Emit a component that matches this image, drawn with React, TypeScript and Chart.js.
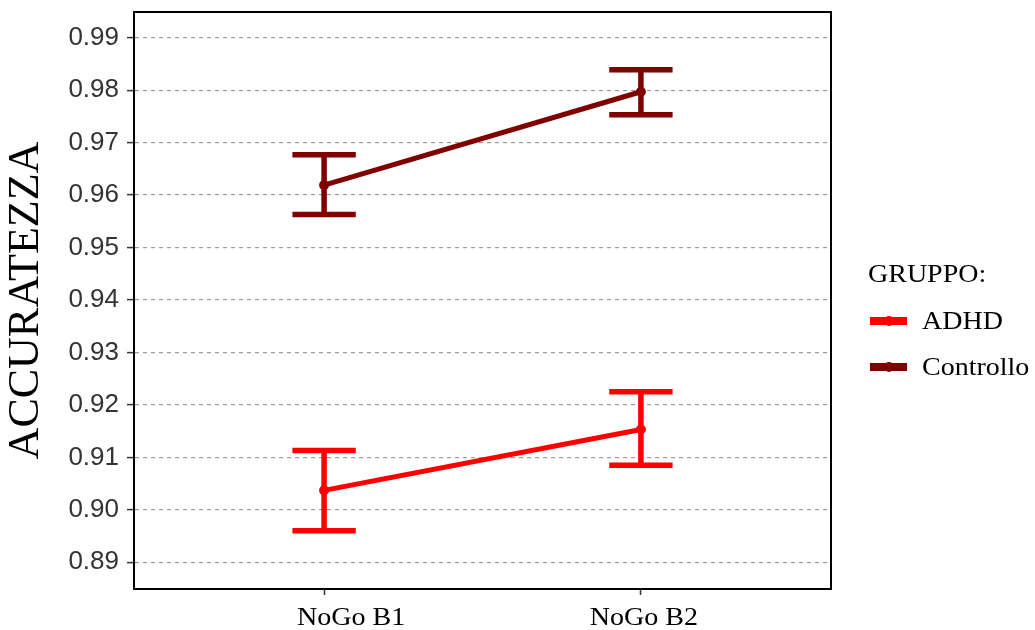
import React, { useEffect, useRef } from "react";
import { Chart, registerables } from "chart.js";

Chart.register(...registerables);

const categories = ["NoGo B1", "NoGo B2"];
const categoryPositions = [1, 2];
const groups = ["ADHD", "Controllo"];
const groupColors = ["#FF0000", "#800000"];
const adhdMean = [0.9037, 0.9153];
const adhdLower = [0.896, 0.9085];
const adhdUpper = [0.9113, 0.9225];
const controlloMean = [0.9619, 0.9797];
const controlloLower = [0.9563, 0.9753];
const controlloUpper = [0.9677, 0.9839];
const yTicks = [0.89, 0.9, 0.91, 0.92, 0.93, 0.94, 0.95, 0.96, 0.97, 0.98, 0.99];
const yTitle = "ACCURATEZZA";
const legendTitle = "GRUPPO:";

const means = [adhdMean, controlloMean];
const lowers = [adhdLower, controlloLower];
const uppers = [adhdUpper, controlloUpper];

const errorBarPlugin = {
  id: "errorBars",
  beforeDatasetsDraw(chart: any) {
    const { ctx, scales } = chart;
    const xs = scales.x;
    const ys = scales.y;
    ctx.save();
    ctx.lineCap = "butt";
    groups.forEach((_, g) => {
      ctx.strokeStyle = groupColors[g];
      ctx.lineWidth = 5.5;
      categoryPositions.forEach((xv, i) => {
        const x = xs.getPixelForValue(xv);
        const xl = xs.getPixelForValue(xv - 0.1);
        const xr = xs.getPixelForValue(xv + 0.1);
        const yl = ys.getPixelForValue(lowers[g][i]);
        const yu = ys.getPixelForValue(uppers[g][i]);
        ctx.beginPath();
        ctx.moveTo(x, yl);
        ctx.lineTo(x, yu);
        ctx.moveTo(xl, yl);
        ctx.lineTo(xr, yl);
        ctx.moveTo(xl, yu);
        ctx.lineTo(xr, yu);
        ctx.stroke();
      });
    });
    ctx.restore();
  },
};

function stretchedText(ctx: any, text: string, x: number, y: number, sx: number) {
  ctx.save();
  ctx.translate(x, y);
  ctx.scale(sx, 1);
  ctx.fillText(text, 0, 0);
  ctx.restore();
}

const framePlugin = {
  id: "frame",
  afterDraw(chart: any) {
    const { ctx, chartArea, scales } = chart;
    ctx.save();
    ctx.strokeStyle = "#000";
    ctx.lineWidth = 2;
    ctx.strokeRect(chartArea.left, chartArea.top, chartArea.right - chartArea.left, chartArea.bottom - chartArea.top);
    // x category labels
    ctx.fillStyle = "#000";
    ctx.font = '26px "Liberation Serif"';
    ctx.textBaseline = "alphabetic";
    ctx.textAlign = "left";
    const labelShift = [27, 3];
    categories.forEach((c, i) => {
      const x = scales.x.getPixelForValue(categoryPositions[i]);
      const w = ctx.measureText(c).width * 1.08;
      stretchedText(ctx, c, x - w / 2 + labelShift[i], 625, 1.08);
    });
    // legend
    ctx.font = '25px "Liberation Serif"';
    stretchedText(ctx, legendTitle, 868, 282, 1.12);
    const rowY = [321, 367];
    groups.forEach((name, g) => {
      const y = rowY[g];
      ctx.strokeStyle = groupColors[g];
      ctx.fillStyle = groupColors[g];
      ctx.lineWidth = 8;
      ctx.beginPath();
      ctx.moveTo(870, y);
      ctx.lineTo(907, y);
      ctx.stroke();
      ctx.beginPath();
      ctx.arc(889, y, 5, 0, Math.PI * 2);
      ctx.fill();
      ctx.fillStyle = "#000";
      ctx.font = '25px "Liberation Serif"';
      stretchedText(ctx, name, 922, y + 8, 1.12);
    });
    ctx.restore();
  },
};

export default function App() {
  const ref = useRef<HTMLCanvasElement>(null);
  useEffect(() => {
    if (!ref.current) return;
    const chart = new Chart(ref.current, {
      type: "line",
      data: {
        datasets: groups.map((name, g) => ({
          label: name,
          data: categoryPositions.map((x, i) => ({ x, y: means[g][i] })),
          borderColor: groupColors[g],
          backgroundColor: groupColors[g],
          borderWidth: 5,
          pointRadius: 2.5,
          pointHoverRadius: 2.5,
          tension: 0,
        })),
      },
      options: {
        animation: false,
        responsive: false,
        maintainAspectRatio: false,
        events: [],
        layout: { padding: { top: 12, right: 204, left: 0, bottom: 0 } },
        plugins: { legend: { display: false }, tooltip: { enabled: false } },
        scales: {
          x: {
            type: "linear",
            min: 0.4,
            max: 2.6,
            afterBuildTicks: (s: any) => {
              s.ticks = categoryPositions.map((v) => ({ value: v }));
            },
            afterFit: (s: any) => {
              s.height = 41;
              s.paddingLeft = 0;
              s.paddingRight = 0;
            },
            ticks: {
              autoSkip: false,
              maxRotation: 0,
              display: false,
            },
            grid: { display: true, drawOnChartArea: false, drawTicks: true, tickLength: 6, tickColor: "#333", tickWidth: 1.5 },
            border: { display: true, color: "#000", width: 2 },
          },
          y: {
            min: 0.8849,
            max: 0.9949,
            afterBuildTicks: (s: any) => {
              s.ticks = yTicks.map((v) => ({ value: v }));
            },
            afterFit: (s: any) => {
              s.width = 134;
              s.paddingTop = 0;
              s.paddingBottom = 0;
            },
            ticks: {
              padding: 8,
              color: "#333",
              font: { family: "Liberation Sans", size: 26 },
              callback: (v: any) => Number(v).toFixed(2),
            },
            grid: { display: true, color: "#9a9a9a", lineWidth: 1.2, drawTicks: true, tickLength: 7, tickColor: "#333", tickWidth: 1.5 },
            border: { display: true, color: "#000", width: 2, dash: [4, 4] },
            title: {
              display: true,
              text: yTitle,
              color: "#000",
              font: { family: "Liberation Serif", size: 44, weight: "normal" },
              padding: { top: 0, bottom: 0 },
            },
          },
        },
      },
      plugins: [errorBarPlugin, framePlugin],
    });
    return () => chart.destroy();
  }, []);
  return (
    <div style={{ position: "fixed", left: 0, top: 0, width: 1035, height: 630, background: "#fff" }}>
      <canvas ref={ref} width={1035} height={630} style={{ display: "block", width: 1035, height: 630 }} />
    </div>
  );
}
